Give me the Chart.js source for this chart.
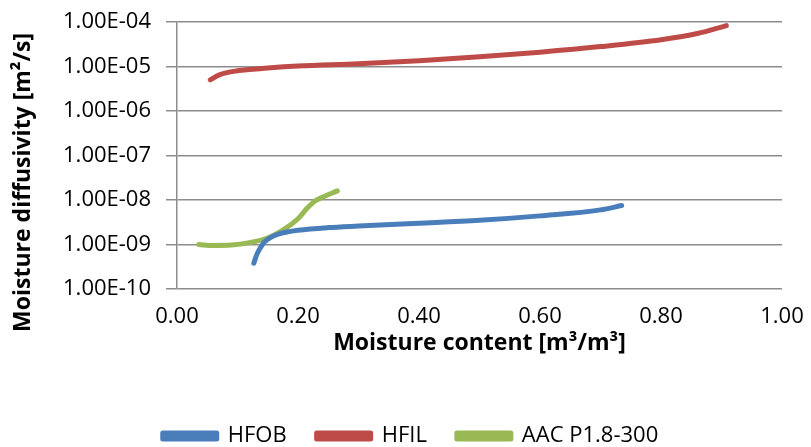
<!DOCTYPE html>
<html>
<head>
<meta charset="utf-8">
<script src="https://cdn.jsdelivr.net/npm/chart.js@4"></script>
<style>
  html, body { margin: 0; padding: 0; background: #fff; }
  #wrap { width: 811px; height: 447px; }
</style>
</head>
<body>
<div id="wrap"><canvas id="grafico"></canvas></div>
<script>
// datos
var hfobX = [0.127, 0.132, 0.138, 0.145, 0.155, 0.17, 0.185, 0.2, 0.25, 0.3, 0.4, 0.5, 0.6, 0.7, 0.735];
var hfobY = [3.8e-10, 6.0e-10, 8.5e-10, 1.15e-9, 1.45e-9, 1.75e-9, 1.95e-9, 2.1e-9, 2.4e-9, 2.6e-9, 3.0e-9, 3.5e-9, 4.4e-9, 6.0e-9, 7.5e-9];

var hfilX = [0.055, 0.07, 0.1, 0.15, 0.2, 0.3, 0.4, 0.5, 0.6, 0.7, 0.8, 0.86, 0.908];
var hfilY = [5.0e-6, 6.5e-6, 8.0e-6, 9.2e-6, 1.02e-5, 1.15e-5, 1.35e-5, 1.65e-5, 2.1e-5, 2.8e-5, 4.0e-5, 5.5e-5, 8.3e-5];

var aacX = [0.036, 0.06, 0.09, 0.12, 0.15, 0.175, 0.2, 0.215, 0.228, 0.24, 0.265];
var aacY = [1.0e-9, 0.95e-9, 0.97e-9, 1.1e-9, 1.4e-9, 2.1e-9, 3.8e-9, 6.5e-9, 9.5e-9, 1.15e-8, 1.6e-8];

var yTicks = [1e-10, 1e-9, 1e-8, 1e-7, 1e-6, 1e-5, 1e-4];
var yTickLabels = ['1.00E-10', '1.00E-09', '1.00E-08', '1.00E-07', '1.00E-06', '1.00E-05', '1.00E-04'];

document.addEventListener('DOMContentLoaded', f_principal);

function f_principal() {
    var ctx = document.getElementById('grafico').getContext('2d');
    Chart.defaults.font.family = "'Open Sans', 'Noto Sans', sans-serif";
    Chart.defaults.color = '#000';

    new Chart(ctx, {
        type: 'line',
        data: {
            datasets: [
                serie('HFOB', hfobX, hfobY, '#4a7ebb'),
                serie('HFIL', hfilX, hfilY, '#be4b48'),
                serie('AAC P1.8-300', aacX, aacY, '#98b954')
            ]
        },
        options: {
            responsive: true,
            maintainAspectRatio: false,
            animation: false,
            layout: { padding: { left: 10, right: 0, top: -6, bottom: -10 } },
            plugins: {
                legend: {
                    position: 'bottom',
                    labels: {
                        boxWidth: 54,
                        boxHeight: 6,
                        padding: 30,
                        font: { size: 22 }
                    }
                },
                tooltip: { enabled: false }
            },
            scales: {
                x: {
                    type: 'linear',
                    min: 0,
                    max: 1,
                    // fijar el area del grafico
                    afterFit: function (escala) {
                        escala.height = 106;
                        escala.paddingRight = 29;
                    },
                    grid: { display: false, drawTicks: false },
                    border: { display: false },
                    ticks: {
                        stepSize: 0.2,
                        padding: 17,
                        font: { size: 22, lineHeight: 1 },
                        callback: function (v) { return v.toFixed(2); }
                    },
                    title: {
                        display: true,
                        text: 'Moisture content [m³/m³]',
                        font: { size: 23, weight: 'bold', lineHeight: 1 },
                        padding: { top: 4, bottom: 40 }
                    }
                },
                y: {
                    type: 'logarithmic',
                    min: 1e-10,
                    max: 1e-4,
                    afterBuildTicks: function (axis) {
                        axis.ticks = yTicks.map(function (v) { return { value: v }; });
                    },
                    afterFit: function (escala) {
                        escala.width = 167;
                        escala.paddingTop = 22;
                    },
                    grid: {
                        color: '#8c8c8c',
                        lineWidth: 1.5,
                        tickLength: 11
                    },
                    border: { color: '#8c8c8c', width: 1.5 },
                    ticks: {
                        padding: 15,
                        font: { size: 22 },
                        callback: function (v) {
                            var i = yTicks.findIndex(function (t) { return Math.abs(Math.log10(t) - Math.log10(v)) < 1e-6; });
                            return i >= 0 ? yTickLabels[i] : '';
                        }
                    },
                    title: {
                        display: true,
                        text: 'Moisture diffusivity [m²/s]\u00a0\u00a0\u00a0\u00a0\u00a0\u00a0\u00a0\u00a0\u00a0',
                        font: { size: 23, weight: 'bold' },
                        padding: { top: 0, bottom: 8 }
                    }
                }
            }
        }
    });
}

function serie(nombre, xs, ys, color) {
    var puntos = [];
    for (var i = 0; i < xs.length; i++) {
        puntos.push({ x: xs[i], y: ys[i] });
    }
    return {
        label: nombre,
        data: puntos,
        borderColor: color,
        backgroundColor: color,
        borderWidth: 5,
        borderCapStyle: 'round',
        borderJoinStyle: 'round',
        pointRadius: 0,
        cubicInterpolationMode: 'monotone',
        fill: false
    };
}
</script>
</body>
</html>
